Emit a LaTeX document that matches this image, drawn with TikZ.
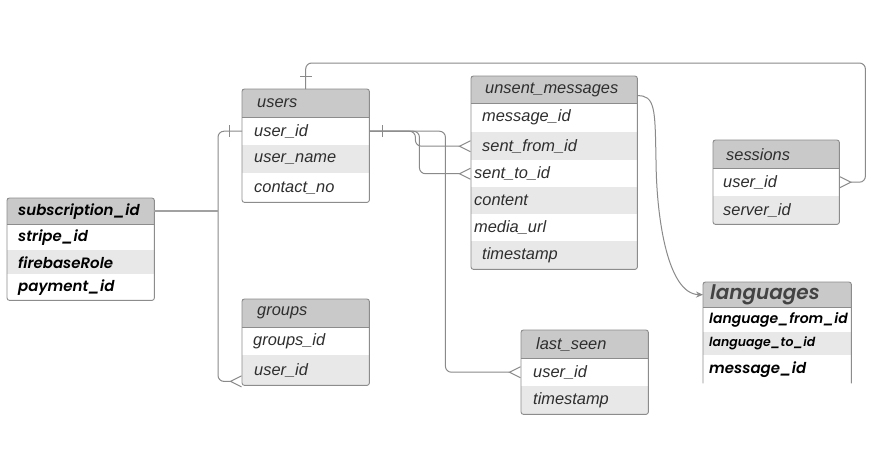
\documentclass[tikz,border=0pt]{standalone}
\usepackage{fontspec}
\setmainfont{Liberation Sans}
\newfontfamily\popfont{Poppins}[BoldItalicFont={Poppins SemiBold Italic}]
\usetikzlibrary{arrows.meta,decorations.markings}
\definecolor{hdrgray}{HTML}{C9C9C9}
\definecolor{rowgray}{HTML}{E8E8E8}
\definecolor{framegray}{HTML}{8C8C8C}
\definecolor{linegray}{HTML}{8A8A8A}
\definecolor{txtgray}{HTML}{2E2E2E}
\begin{document}
\begin{tikzpicture}
	    [x=1pt, y=-1pt,
	    fld/.style={anchor=north west, inner sep=0pt},
	    hdr/.style={fld, fill=hdrgray},
	    alt/.style={fill=rowgray},
	    txt/.style={anchor=west, inner sep=0pt, text=txtgray, font=\fontsize{16.4}{18}\selectfont\itshape},
	    btxt/.style={anchor=west, inner sep=0pt, text=black, font=\popfont\fontsize{15}{18}\selectfont\bfseries\itshape},
	    frame/.style={draw=framegray, line width=0.9pt, rounded corners=2.5pt},
	    conn/.style={draw=linegray, line width=1pt, rounded corners=6pt},
	    crow/.style={-{Straight Barb[reversed, length=11pt, width=11pt]}},
	    one/.style={postaction={decorate, decoration={markings, mark=at position 13pt with {\draw[-, linegray, line width=1pt] (0,-6pt) -- (0,6pt);}}}}]
	    \useasboundingbox[fill=white] (0,0) rectangle (875,459);
	    % users
	    \node[hdr, minimum width=127pt, minimum height=28pt, label={[txt, xshift=15pt]west:users}] (u_hdr) at (242,89) {};
	    \node[fld, minimum width=127pt, minimum height=28pt, label={[txt, xshift=12pt]west:user\_id}] (u_uid) at (242,117) {};
	    \node[fld, alt, minimum width=127pt, minimum height=28pt, label={[txt, xshift=12pt]west:user\_name}] (u_name) at (242,145) {};
	    \node[fld, minimum width=127pt, minimum height=29pt, label={[txt, xshift=12pt]west:contact\_no}] (u_contact) at (242,173) {};
	    \draw[frame] (u_hdr.north west) rectangle (u_contact.south east);
	    \draw[framegray] (u_hdr.south west) -- (u_hdr.south east);
	    % unsent_messages
	    \node[hdr, minimum width=166pt, minimum height=27pt, label={[txt, xshift=14pt]west:unsent\_messages}] (m_hdr) at (471,76) {};
	    \node[fld, minimum width=166pt, minimum height=29pt, label={[txt, xshift=11pt]west:message\_id}] (m_id) at (471,103) {};
	    \node[fld, alt, minimum width=166pt, minimum height=28pt, label={[txt, xshift=11pt]west:sent\_from\_id}] (m_from) at (471,132) {};
	    \node[fld, minimum width=166pt, minimum height=27pt, label={[txt, xshift=3pt]west:sent\_to\_id}] (m_to) at (471,160) {};
	    \node[fld, alt, minimum width=166pt, minimum height=27pt, label={[txt, xshift=3pt]west:content}] (m_content) at (471,187) {};
	    \node[fld, minimum width=166pt, minimum height=27pt, label={[txt, xshift=3pt]west:media\_url}] (m_url) at (471,214) {};
	    \node[fld, alt, minimum width=166pt, minimum height=28pt, label={[txt, xshift=11pt]west:timestamp}] (m_time) at (471,241) {};
	    \draw[frame] (m_hdr.north west) rectangle (m_time.south east);
	    \draw[framegray] (m_hdr.south west) -- (m_hdr.south east);
	    % sessions
	    \node[hdr, minimum width=126pt, minimum height=28pt, label={[txt, xshift=13pt]west:sessions}] (s_hdr) at (713,140) {};
	    \node[fld, minimum width=126pt, minimum height=28pt, label={[txt, xshift=10pt]west:user\_id}] (s_uid) at (713,168) {};
	    \node[fld, alt, minimum width=126pt, minimum height=28pt, label={[txt, xshift=10pt]west:server\_id}] (s_srv) at (713,196) {};
	    \draw[frame] (s_hdr.north west) rectangle (s_srv.south east);
	    \draw[framegray] (s_hdr.south west) -- (s_hdr.south east);
	    % subscription
	    \node[hdr, minimum width=147pt, minimum height=26pt, label={[btxt, xshift=11pt]west:subscription\_id}] (sub) at (7,198) {};
	    \node[fld, minimum width=147pt, minimum height=26pt, label={[btxt, xshift=11pt]west:stripe\_id}] (sub_stripe) at (7,224) {};
	    \node[fld, alt, minimum width=147pt, minimum height=24pt, label={[btxt, xshift=11pt]west:firebaseRole}] (sub_role) at (7,250) {};
	    \node[fld, minimum width=147pt, minimum height=26pt, label={[btxt, xshift=11pt]west:payment\_id}] (sub_pay) at (7,274) {};
	    \draw[frame] (sub.north west) rectangle (sub_pay.south east);
	    \draw[framegray] (sub.south west) -- (sub.south east);
	    % groups
	    \node[hdr, minimum width=127pt, minimum height=28pt, label={[txt, xshift=15pt]west:groups}] (g_hdr) at (242,299) {};
	    \node[fld, minimum width=127pt, minimum height=28pt, label={[txt, xshift=11pt]west:groups\_id}] (g_id) at (242,327) {};
	    \node[fld, alt, minimum width=127pt, minimum height=30pt, label={[txt, xshift=12pt]west:user\_id}] (g_uid) at (242,355) {};
	    \draw[frame] (g_hdr.north west) rectangle (g_uid.south east);
	    \draw[framegray] (g_hdr.south west) -- (g_hdr.south east);
	    % last_seen
	    \node[hdr, minimum width=127pt, minimum height=28pt, label={[txt, xshift=15pt]west:last\_seen}] (l_hdr) at (521,330) {};
	    \node[fld, minimum width=127pt, minimum height=28pt, label={[txt, xshift=12pt]west:user\_id}] (l_uid) at (521,358) {};
	    \node[fld, alt, minimum width=127pt, minimum height=28pt, label={[txt, xshift=12pt]west:timestamp}] (l_time) at (521,386) {};
	    \draw[frame] (l_hdr.north west) rectangle (l_time.south east);
	    \draw[framegray] (l_hdr.south west) -- (l_hdr.south east);
	    % languages
	    \node[hdr, minimum width=148pt, minimum height=25pt, label={[btxt, xshift=7pt, font=\popfont\fontsize{20}{22}\selectfont\bfseries\itshape, text=txtgray!90]west:languages}] (lang) at (703,282) {};
	    \node[fld, minimum width=148pt, minimum height=25pt, label={[btxt, xshift=6pt, font=\popfont\fontsize{14}{16}\selectfont\bfseries\itshape]west:language\_from\_id}] (lg_from) at (703,307) {};
	    \node[fld, alt, minimum width=148pt, minimum height=23pt, label={[btxt, xshift=6pt, font=\popfont\fontsize{12.5}{15}\selectfont\bfseries\itshape]west:language\_to\_id}] (lg_to) at (703,332) {};
	    \node[fld, minimum width=148pt, minimum height=28pt, label={[btxt, xshift=6pt]west:message\_id}] (lg_msg) at (703,355) {};
	    \draw[frame] (lg_msg.south west) |- (lang.north east) -- (lg_msg.south east);
	    \draw[framegray] (lang.south west) -- (lang.south east);
	    % connectors
	    \coordinate (trunk) at ([xshift=-24pt]u_uid.west);
	    \draw[conn, one, crow] (u_hdr.north) -- ++(0,-26) -| ([xshift=26pt]s_uid.east) -- (s_uid.east);
	    \draw[conn, one, crow] (u_uid.west) -- (trunk) |- ([yshift=4pt]g_uid.south west);
	    \draw[conn, draw=linegray!80, line width=1.8pt, rounded corners=0pt] (sub.east) -- (sub.east -| trunk);
	    \draw[conn, one, crow] (u_uid.east) -- ++(46,0) |- (m_from.west);
	    \draw[conn, crow] (u_uid.east) -- ++(50,0) |- (m_to.west);
	    \draw[conn, crow] (u_uid.east) -- ++(76,0) |- (l_uid.west);
	    \draw[conn, -{Stealth[length=7pt, width=6pt]}] ([yshift=-6pt]m_hdr.east) .. controls (655,95) and (655,110) .. (656,160) .. controls (657,220) and (668,294) .. (lang.west);
\end{tikzpicture}
\end{document}
